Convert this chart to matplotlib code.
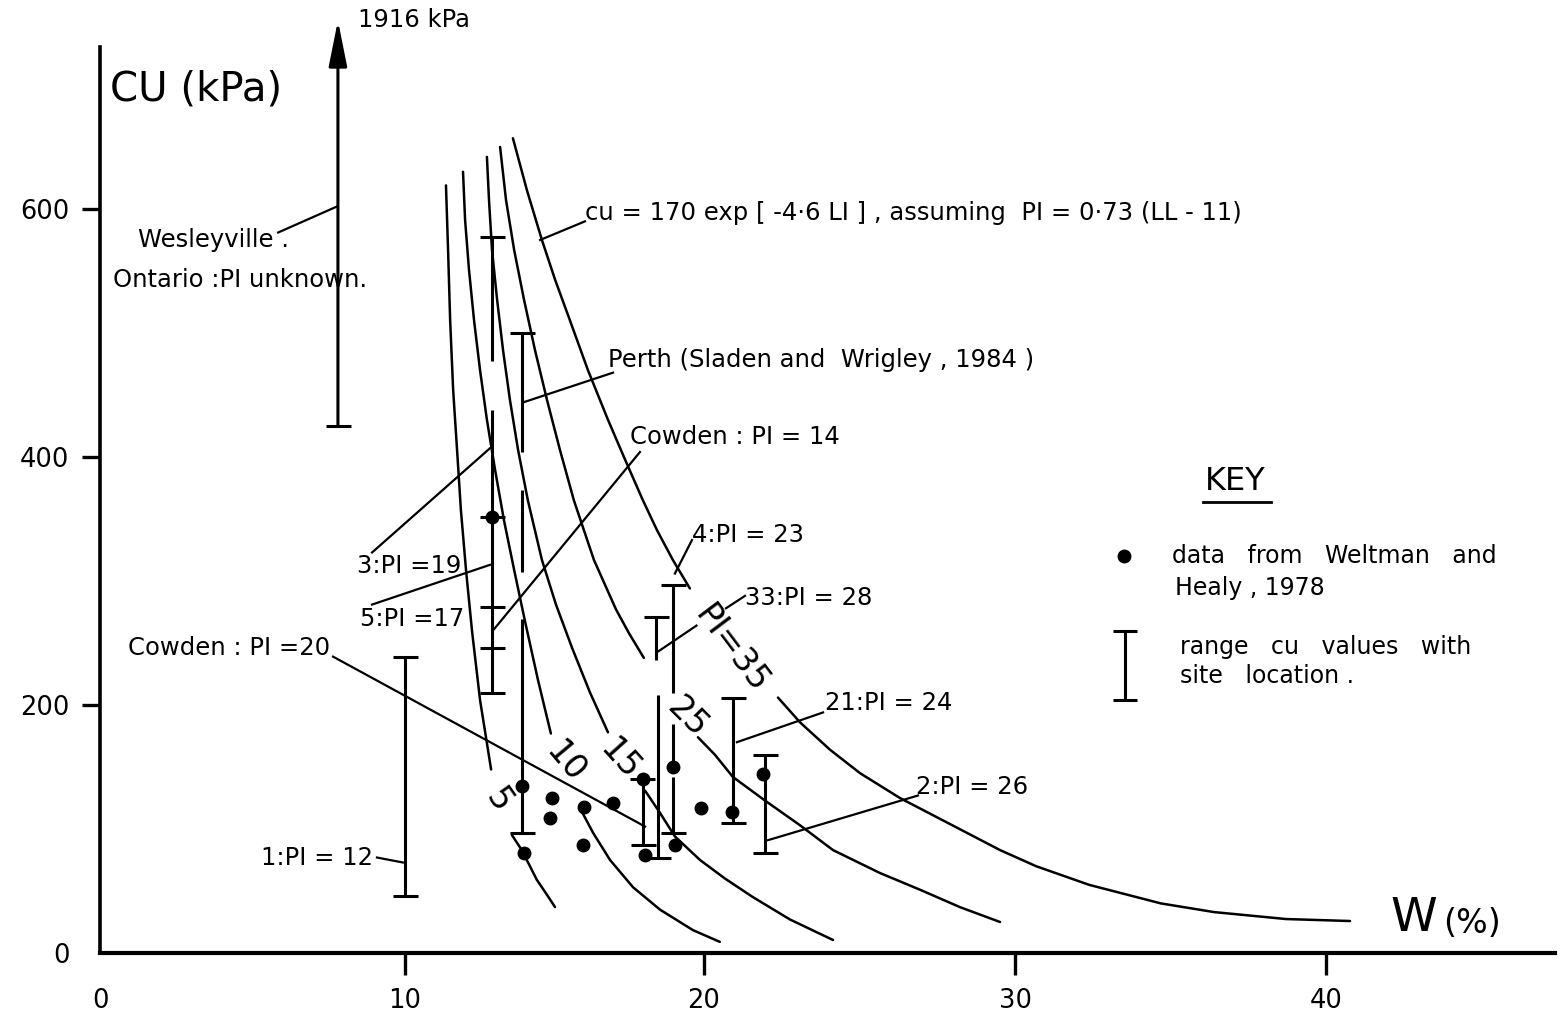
import numpy as np
import matplotlib
matplotlib.use("Agg")
import matplotlib.pyplot as plt

plt.rcParams['font.family'] = ['DejaVu Sans']

# ---------------- axis (hand drawn, tick spacing not perfectly even) ----------------
X_TICKS = [0, 10, 20, 30, 40]
Y_TICKS = [0, 200, 400, 600]
AXIS_W = [-10, 0, 10, 20, 30, 40, 60]
AXIS_DRAWN = [-10, 0, 10, 19.80, 30.0, 40.20, 60.59]

# ---------------- curves cu = 170 exp(-4.6 LI) for several PI ----------------
PI5_W_UP = [11.37, 11.44, 11.51, 11.61, 11.74, 11.87, 12.04, 12.24, 12.51, 12.88]
PI5_CU_UP = [619, 567, 510, 454, 406, 357, 309, 260, 204, 148]
PI5_W_LO = [13.58, 13.88, 14.18, 14.41, 14.72, 15.02]
PI5_CU_LO = [95, 84, 70, 59, 48, 37]

PI10_W_UP = [11.94, 12.01, 12.14, 12.31, 12.51, 12.74, 13.01, 13.31, 13.65, 14.01, 14.45, 14.88]
PI10_CU_UP = [630, 591, 551, 510, 470, 430, 390, 349, 309, 268, 220, 177]
PI10_W_LO = [15.85, 16.29, 16.86, 17.63, 18.53, 19.63, 20.51]
PI10_CU_LO = [117, 97, 75, 53, 35, 18.5, 9]

PI15_W_UP = [12.74, 12.81, 12.91, 13.08, 13.28, 13.51, 13.78, 14.11, 14.58, 15.05, 15.59, 16.19, 16.79]
PI15_CU_UP = [642, 607, 567, 527, 486, 446, 406, 365, 317, 281, 246, 210, 178]
PI15_W_LO = [18.03, 18.53, 19.03, 19.87, 20.68, 21.58, 22.77, 24.15]
PI15_CU_LO = [131, 113, 94, 75, 60, 45, 27, 10.5]

PI25_W_UP = [13.18, 13.38, 13.65, 13.98, 14.35, 14.75, 15.18, 15.65, 16.32, 17.06, 17.49, 17.99]
PI25_CU_UP = [650, 607, 567, 527, 486, 446, 406, 365, 317, 277, 258, 238]
PI25_W_LO = [19.80, 20.35, 20.93, 21.96, 23.09, 24.15, 25.66, 26.95, 28.23, 29.52]
PI25_CU_LO = [174, 160, 142, 123, 103, 83, 64.5, 51, 37, 25]

PI35_W_UP = [13.61, 14.08, 14.58, 15.02, 15.52, 16.12, 16.79, 17.36, 17.96, 18.43, 18.96, 19.53]
PI35_CU_UP = [657, 615, 575, 543, 510, 470, 430, 398, 365, 341, 317, 294]
PI35_W_LO = [22.38, 23.09, 24.05, 25.02, 26.30, 27.91, 29.52, 30.68, 32.38, 34.69, 36.40, 38.71, 40.77]
PI35_CU_LO = [206, 186, 164, 145, 125, 104, 83, 70, 55, 40, 33, 27.4, 25.8]

# ---------------- data from Weltman and Healy, 1978 ----------------
DOT_W = [12.91, 13.9, 14.92, 14.85, 15.99, 15.95, 16.96, 13.98, 17.96, 18.03, 18.96, 19.03, 19.90, 20.90, 21.90]
DOT_CU = [352, 135, 125, 109, 118, 87, 121, 81, 140, 79, 150, 87, 117, 114, 144]

# ---------------- site ranges of cu (vertical bar pieces and end caps) ----------------
SEG_W = [10.0, 12.9, 12.9, 13.9, 13.9, 13.9, 17.96, 18.46, 18.4, 18.96, 18.96, 18.96, 20.93, 21.96]
SEG_LO = [46, 477, 210, 404, 307, 97, 87, 77, 236, 210, 155, 97, 105, 81]
SEG_HI = [239, 577, 438, 500, 373, 269, 140, 208, 271, 297, 185, 142, 206, 160]
CAP_W = [7.8, 10.0, 10.0, 12.9, 12.9, 12.9, 12.9, 12.9, 13.9, 13.9, 17.94, 17.96, 18.46,
         18.4, 18.96, 18.96, 20.93, 20.93, 21.96, 21.96]
CAP_CU = [425, 239, 46, 577, 352, 279, 246, 210, 500, 97, 140, 87, 77,
          271, 297, 97, 206, 105, 160, 81]

# Wesleyville range (arrow: top value 1916 kPa, off the chart)
WES_W = 7.8
WES_LO = 425
WES_TOP = 752

# ---------------- leader lines ----------------
LEAD_W = [[5.84, 7.77], [16.02, 14.52], [16.96, 13.95], [17.86, 12.94], [8.92, 12.84],
          [8.92, 12.84], [7.64, 18.03], [9.08, 9.93], [19.60, 19.03], [21.32, 20.71],
          [19.75, 18.46], [23.83, 21.06], [26.88, 22.06]]
LEAD_CU = [[581, 602], [590, 575], [468, 444], [404, 260], [323, 407],
           [281, 313], [239, 102], [77, 73], [333, 306], [288, 278],
           [264, 243], [194, 170], [127, 91]]

# ---------------- annotations ----------------
NOTE_TEXT = ["Ontario :PI unknown.",
             "cu = 170 exp [ -4·6 LI ] , assuming  PI = 0·73 (LL - 11)",
             "Perth (Sladen and  Wrigley , 1984 )", "Cowden : PI = 14",
             "4:PI = 23", "3:PI =19", "5:PI =17", "33:PI = 28",
             "21:PI = 24", "2:PI = 26", "1916 kPa"]
NOTE_W = [0.43, 16.02, 16.79, 17.53, 19.60, 8.43, 8.52, 21.32, 23.90, 26.82, 8.46]
NOTE_CU = [543, 597, 478, 416, 337, 312, 269, 286, 202, 134, 752]
# labels that end where their leader starts (right aligned)
RNOTE_TEXT = ["Wesleyville .", "Cowden : PI =20", "1:PI = 12"]
RNOTE_W = [6.2, 7.54, 8.95]
RNOTE_CU = [575, 246, 77]

CURVE_LABELS = ["5", "10", "15", "25", "PI=35"]
CURVE_LAB_W = [13.11, 15.35, 17.19, 19.46, 20.9]
CURVE_LAB_CU = [123, 154, 156, 190, 245]
CURVE_LAB_ROT = [-55, -50, -48, -45, -53]

KEY_LINES = ["data   from   Weltman   and", "Healy , 1978", "range   cu   values   with", "site   location ."]
KEY_W = [35.05, 35.14, 35.31, 35.31]
KEY_CU = [320, 294, 247, 223]


def fwd(w):
    return np.interp(w, AXIS_W, AXIS_DRAWN)


def inv(d):
    return np.interp(d, AXIS_DRAWN, AXIS_W)


fig = plt.figure(figsize=(15.68, 10.18), dpi=100)
ax = fig.add_axes([0, 0, 1, 1])
ax.set_xscale('function', functions=(fwd, inv))
ax.set_xlim(-3.28, 47.78)
ax.set_ylim(-52.4, 768.5)

for s in ['top', 'right']:
    ax.spines[s].set_visible(False)
ax.spines['left'].set_position(('data', 0))
ax.spines['left'].set_bounds(0, 731)
ax.spines['left'].set_linewidth(2.6)
ax.spines['bottom'].set_position(('data', 0))
ax.spines['bottom'].set_bounds(0, 47.36)
ax.spines['bottom'].set_linewidth(3.0)

ax.set_xticks(X_TICKS)
ax.set_xticklabels([str(v) for v in X_TICKS])
ax.set_yticks(Y_TICKS)
ax.set_yticklabels([str(v) for v in Y_TICKS])
ax.xaxis.set_minor_locator(matplotlib.ticker.NullLocator())
ax.yaxis.set_minor_locator(matplotlib.ticker.NullLocator())
ax.tick_params(axis='x', direction='out', length=16, width=2.4, pad=9, labelsize=18.5)
ax.tick_params(axis='y', direction='out', length=13, width=2.4, pad=9, labelsize=18.5)
ax.xaxis.get_major_ticks()[0].tick1line.set_visible(False)
ax.yaxis.get_major_ticks()[0].tick1line.set_visible(False)

# curves
curve_kw = dict(color='black', lw=1.8, solid_capstyle='round', solid_joinstyle='round')
for wv, cv in [(PI5_W_UP, PI5_CU_UP), (PI5_W_LO, PI5_CU_LO),
               (PI10_W_UP, PI10_CU_UP), (PI10_W_LO, PI10_CU_LO),
               (PI15_W_UP, PI15_CU_UP), (PI15_W_LO, PI15_CU_LO),
               (PI25_W_UP, PI25_CU_UP), (PI25_W_LO, PI25_CU_LO),
               (PI35_W_UP, PI35_CU_UP), (PI35_W_LO, PI35_CU_LO)]:
    ax.plot(wv, cv, **curve_kw)

# range bars
ax.vlines(SEG_W, SEG_LO, SEG_HI, color='black', lw=2.2)
ax.plot(CAP_W, CAP_CU, ls='none', marker='_', ms=18, mew=2.2, color='black')

# Wesleyville arrow
ax.annotate('', xy=(WES_W, WES_TOP), xytext=(WES_W, WES_LO),
            arrowprops=dict(arrowstyle='-|>,head_length=1.0,head_width=0.2',
                            lw=2.2, color='black', mutation_scale=28, shrinkA=0, shrinkB=0))

# data points
ax.plot(DOT_W, DOT_CU, ls='none', marker='o', ms=9, color='black')

# leaders
for lw_, lc_ in zip(LEAD_W, LEAD_CU):
    ax.plot(lw_, lc_, color='black', lw=1.6)

# annotations
for t, x, y in zip(NOTE_TEXT, NOTE_W, NOTE_CU):
    ax.text(x, y, t, fontsize=17.5, ha='left', va='center')
for t, x, y in zip(RNOTE_TEXT, RNOTE_W, RNOTE_CU):
    ax.text(x, y, t, fontsize=17.5, ha='right', va='center')

for t, x, y, r in zip(CURVE_LABELS, CURVE_LAB_W, CURVE_LAB_CU, CURVE_LAB_ROT):
    ax.text(x, y, t, fontsize=24, ha='center', va='center', rotation=r,
            rotation_mode='anchor')

# axis titles
ax.text(0.33, 696, "CU (kPa)", fontsize=29, ha='left', va='center')
ax.text(42.06, 28, "W", fontsize=34, ha='left', va='center')
ax.text(43.75, 24, "(%)", fontsize=24, ha='left', va='center')

# key
ax.text(36.11, 380, "KEY", fontsize=23, ha='left', va='center')
ax.plot([36.05, 38.22], [364, 364], color='black', lw=2.0)
ax.plot([33.50], [320], ls='none', marker='o', ms=9, color='black')
ax.vlines([33.54], [204], [260], color='black', lw=2.2)
ax.plot([33.54, 33.54], [204, 260], ls='none', marker='_', ms=17, mew=2.2, color='black')
for t, x, y in zip(KEY_LINES, KEY_W, KEY_CU):
    ax.text(x, y, t, fontsize=17, ha='left', va='center')

fig.savefig('out.png', dpi=100)
